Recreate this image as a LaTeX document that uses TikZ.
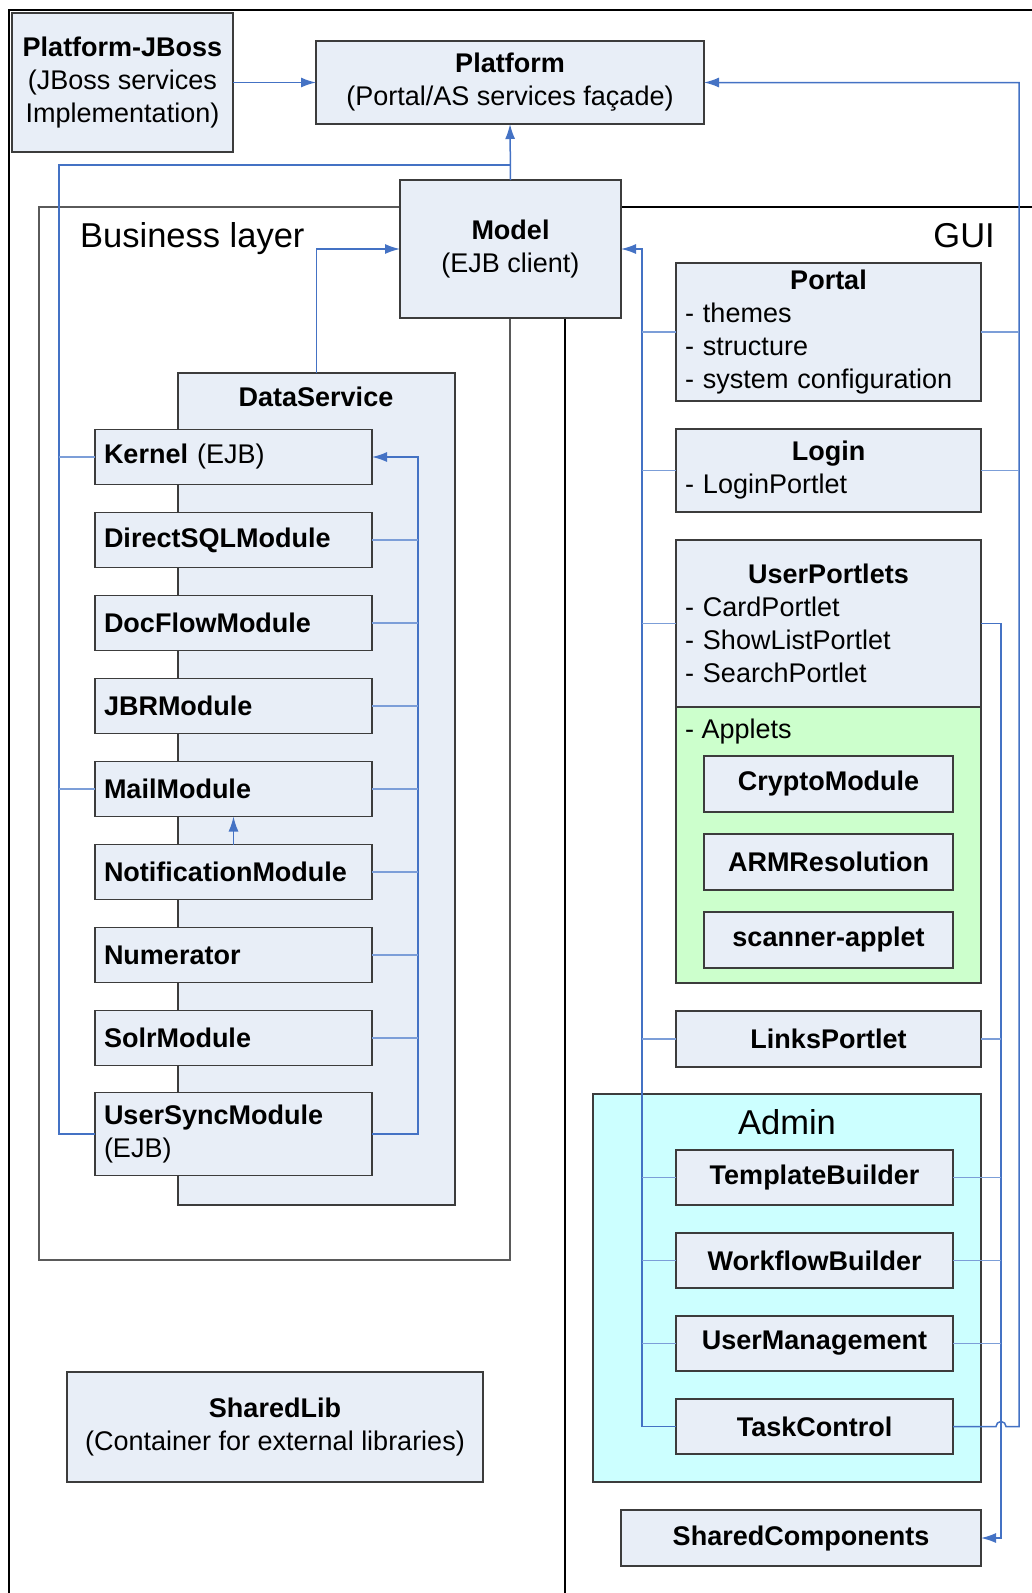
\documentclass[tikz,border=0pt]{standalone}
\usepackage{fontspec}
\setmainfont{Liberation Sans}
\usetikzlibrary{positioning, arrows.meta, calc}

\definecolor{boxfill}{RGB}{232,238,247}
\definecolor{boxline}{RGB}{60,60,60}
\definecolor{framegray}{RGB}{90,90,90}
\definecolor{appletfill}{RGB}{204,255,204}
\definecolor{adminfill}{RGB}{204,255,255}
\definecolor{linkdark}{RGB}{68,114,196}
\definecolor{linklight}{RGB}{124,158,216}

\newcommand{\diagfont}{\fontsize{27}{33}\selectfont}
\newcommand{\layerfont}{\fontsize{34.5}{40}\selectfont}

\begin{document}
\begin{tikzpicture}[
					x=1pt, y=-1pt,
					font=\diagfont,
					>={Latex[length=15pt, width=10pt]},
					comp/.style={draw=boxline, fill=boxfill, line width=1.3pt, inner sep=0pt, outer sep=0pt, anchor=north west},
					module/.style={comp, font=\diagfont, minimum height=55pt, text width=259pt, inner xsep=9pt, align=left},
					portlet/.style={comp, font=\diagfont, minimum height=#1, text width=287pt, inner xsep=9pt, align=left},
					applet/.style={comp, font=\diagfont\bfseries, minimum width=249pt, minimum height=56pt},
					adminbox/.style={comp, font=\diagfont\bfseries, minimum width=277pt, minimum height=55pt},
					layertext/.style={font=\layerfont, inner sep=0pt},
					buswire/.style={draw=linkdark, line width=1.5pt},
					tapwire/.style={draw=linklight, line width=1.3pt}
					]
					\useasboundingbox (0,0) rectangle (1032,1593);
					\clip (0,0) rectangle (1032,1593);
					% frames
					\draw[line width=2.5pt] (9,1600) -- (9,10) -- (1040,10);
					\draw[draw=framegray, line width=1.3pt] (39,207) rectangle (510,1260);
					\draw[line width=1.3pt] (565,1600) -- (565,207) -- (1040,207);
					\node[layertext, anchor=base west] (business) at (80,247) {Business layer};
					\node[layertext, anchor=base east] (gui) at (995,247) {GUI};

					\node[comp, minimum width=221pt, minimum height=139pt, align=center] (pjboss) at (12,13) {\textbf{Platform-JBoss}\\(JBoss services\\Implementation)};
					\node[comp, minimum width=388pt, minimum height=83pt, align=center] (platform) at (316,41) {\textbf{Platform}\\(Portal/AS services façade)};
					\node[comp, minimum width=221pt, minimum height=138pt, align=center] (model) at (400,180) {\textbf{Model}\\(EJB client)};

					% business layer
					\node[comp, minimum width=277pt, minimum height=832pt] (dataservice) at (178,373) {};
					\node[anchor=base, inner sep=0pt] (dstitle) at (316,406) {\textbf{DataService}};
					\node[module] (kernel) at (95,429.5) {\textbf{Kernel} (EJB)};
					\node[module, below=28pt of kernel] (directsql) {\textbf{DirectSQLModule}};
					\node[module, below=28pt of directsql] (docflow) {\textbf{DocFlowModule}};
					\node[module, below=28pt of docflow] (jbr) {\textbf{JBRModule}};
					\node[module, below=28pt of jbr] (mail) {\textbf{MailModule}};
					\node[module, below=28pt of mail] (notification) {\textbf{NotificationModule}};
					\node[module, below=28pt of notification] (numerator) {\textbf{Numerator}};
					\node[module, below=28pt of numerator] (solr) {\textbf{SolrModule}};
					\node[module, minimum height=83pt, below=27pt of solr] (usersync) {\textbf{UserSyncModule}\\(EJB)};

					\node[comp, minimum width=416pt, minimum height=110pt, align=center] (sharedlib) at (67,1372) {\textbf{SharedLib}\\(Container for external libraries)};

					% GUI
					\node[portlet=138pt] (portal) at (676,263) {\makebox[287pt]{\textbf{Portal}}\\- themes\\- structure\\- system configuration};
					\node[portlet=83pt, below=28pt of portal] (login) {\makebox[287pt]{\textbf{Login}}\\- LoginPortlet};
					\node[portlet=167pt, below=28pt of login] (userportlets) {\makebox[287pt]{\textbf{UserPortlets}}\\- CardPortlet\\- ShowListPortlet\\- SearchPortlet};
					\node[comp, fill=appletfill, minimum width=305pt, minimum height=276pt, below=0pt of userportlets] (applets) {};
					\node[anchor=base west, inner sep=0pt] (appletstitle) at (685,738) {- Applets};
					\node[applet] (crypto) at (704,756) {CryptoModule};
					\node[applet, below=22pt of crypto] (armresolution) {ARMResolution};
					\node[applet, below=22pt of armresolution] (scanner) {scanner-applet};
					\node[comp, font=\diagfont\bfseries, minimum width=305pt, minimum height=56pt, below=28pt of applets] (links) {LinksPortlet};

					\node[comp, fill=adminfill, minimum width=388pt, minimum height=388pt] (admin) at (593,1094) {};
					\node[layertext, anchor=base] (admintitle) at (787,1134) {Admin};
					\node[adminbox] (templatebuilder) at (676,1150) {TemplateBuilder};
					\node[adminbox, below=28pt of templatebuilder] (workflowbuilder) {WorkflowBuilder};
					\node[adminbox, below=28pt of workflowbuilder] (usermanagement) {UserManagement};
					\node[adminbox, below=28pt of usermanagement] (taskcontrol) {TaskControl};
					\node[comp, font=\diagfont\bfseries, minimum width=360pt, minimum height=56pt] (sharedcomp) at (621,1510) {SharedComponents};

					% connectors
					\coordinate (lbus) at (59,165);
					\coordinate (dsbus) at (418,0);
					\coordinate (guibus) at (642,0);
					\coordinate (sharedbus) at (1001,0);
					\coordinate (platbus) at (1019,0);

					\draw[buswire, ->] (pjboss.east) -- (platform.west);
					\draw[buswire, ->] (model.north) -- (platform.south);
					\draw[buswire] (usersync.west) -| (lbus) -- (lbus -| platform.south);
					\draw[tapwire] (kernel.west) -- (kernel.west -| lbus);
					\draw[tapwire] (mail.west) -- (mail.west -| lbus);
					\draw[buswire, ->] (dataservice.north) |- (model.west);

					\draw[buswire, ->] (usersync.east) -| (kernel.east -| dsbus) -- (kernel.east);
					\draw[tapwire] (directsql.east) -- (directsql.east -| dsbus);
					\draw[tapwire] (docflow.east) -- (docflow.east -| dsbus);
					\draw[tapwire] (jbr.east) -- (jbr.east -| dsbus);
					\draw[tapwire] (mail.east) -- (mail.east -| dsbus);
					\draw[tapwire] (notification.east) -- (notification.east -| dsbus);
					\draw[tapwire] (numerator.east) -- (numerator.east -| dsbus);
					\draw[tapwire] (solr.east) -- (solr.east -| dsbus);
					\draw[buswire, ->] (notification.north) -- (mail.south);

					\draw[buswire, ->] (taskcontrol.west) -| (model.east -| guibus) -- (model.east);
					\draw[tapwire] (portal.west) -- (portal.west -| guibus);
					\draw[tapwire] (login.west) -- (login.west -| guibus);
					\draw[tapwire] (userportlets.west) -- (userportlets.west -| guibus);
					\draw[tapwire] (links.west) -- (links.west -| guibus);
					\draw[tapwire] (templatebuilder.west) -- (templatebuilder.west -| guibus);
					\draw[tapwire] (workflowbuilder.west) -- (workflowbuilder.west -| guibus);
					\draw[tapwire] (usermanagement.west) -- (usermanagement.west -| guibus);

					\draw[buswire, ->] (userportlets.east) -| (sharedcomp.east -| sharedbus) -- (sharedcomp.east);
					\draw[tapwire] (links.east) -- (links.east -| sharedbus);
					\draw[tapwire] (templatebuilder.east) -- (templatebuilder.east -| sharedbus);
					\draw[tapwire] (workflowbuilder.east) -- (workflowbuilder.east -| sharedbus);
					\draw[tapwire] (usermanagement.east) -- (usermanagement.east -| sharedbus);

					\draw[buswire, ->] (taskcontrol.east) -- ($(taskcontrol.east -| sharedbus)+(-5,0)$) arc[start angle=180, end angle=0, radius=5pt] -| (platform.east -| platbus) -- (platform.east);
					\draw[tapwire] (portal.east) -- (portal.east -| platbus);
					\draw[tapwire] (login.east) -- (login.east -| platbus);
				\end{tikzpicture}
\end{document}
